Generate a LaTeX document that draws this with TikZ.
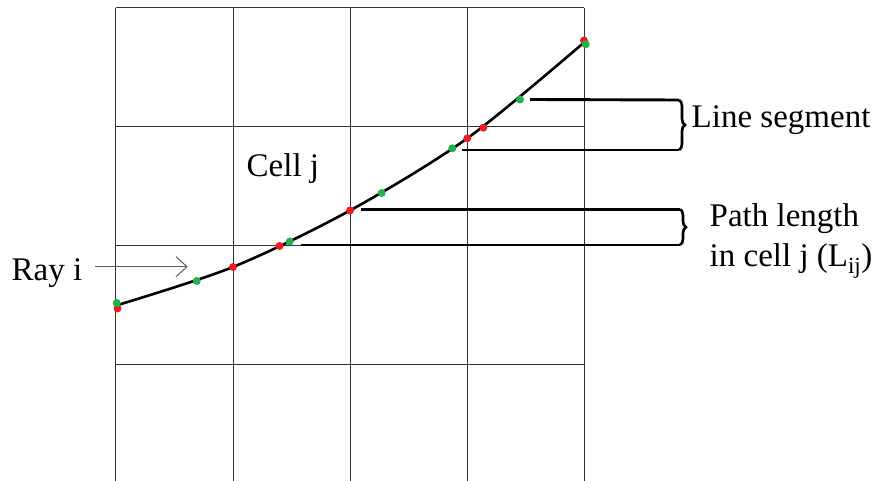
\documentclass[tikz,border=0pt]{standalone}
\usepackage{fontspec}
\setmainfont{Liberation Serif}
\usepackage{tikz}
\usetikzlibrary{arrows.meta,calc,positioning,decorations.pathreplacing}
\definecolor{dotred}{RGB}{237,28,36}
\definecolor{dotgreen}{RGB}{34,177,76}
\tikzset{
    gridline/.style={line width=1pt,draw=black!80},
    raycurve/.style={line width=2.6pt,draw=black,line cap=round},
    reddot/.style={fill=dotred},
    greendot/.style={fill=dotgreen},
    leader/.style={line width=2.9pt,draw=black},
    mybrace/.style={line width=2.6pt,draw=black,decorate,decoration={brace,amplitude=6pt}},
    rayarrow/.style={line width=1pt,draw=black!65,-{Straight Barb[length=11pt,width=20pt,line width=1pt]}},
    lbl/.style={font=\fontsize{33}{40}\selectfont,inner sep=0pt,anchor=base west},
    every node/.style={font=\fontsize{33}{40}\selectfont}
}

\begin{document}
\begin{tikzpicture}[x=1pt,y=-1pt]
  \useasboundingbox (0,0) rectangle (876,481);

  %---------------- grid ----------------
            \foreach \x in {115.5,233,350,467.5,584}{
                \draw[gridline] (\x,8) -- (\x,481);
            }
            \foreach \y in {8,127,245.5,364}{
                \draw[gridline] (115.5,\y) -- (584,\y);
            }

  %---------------- ray ----------------
            \coordinate (G0) at (116.7,303);
            \coordinate (G1) at (196.7,281);
            \coordinate (G2) at (289.7,241.5);
            \coordinate (G3) at (381.7,193);
            \coordinate (G4) at (452.3,148.3);
            \coordinate (G5) at (520,99.5);
            \coordinate (G6) at (585.7,44.3);

            \coordinate (R0) at (117.5,308.5);
            \coordinate (R1) at (233,267);
            \coordinate (R2) at (279.5,246);
            \coordinate (R3) at (350,210.5);
            \coordinate (R4) at (467.3,138.3);
            \coordinate (R5) at (483.3,127.7);
            \coordinate (R6) at (584,40.5);

            \draw[raycurve] plot[smooth] coordinates
                {(116,305.5) (R1) (R3) (R4) (584,42.5)};

            \foreach \P in {R0,R1,R2,R3,R4,R5,R6}{
                \fill[reddot] (\P) circle (4pt);
            }
            \foreach \P in {G0,G1,G2,G3,G4,G5,G6}{
                \fill[greendot] (\P) circle (4pt);
            }

  %---------------- labels ----------------
            \node[lbl] (raylbl) at (11.5,280) {Ray i};
            \node[lbl] (celllbl) at (246.5,176.5) {Cell j};
            \node[lbl] (seglbl) at (691.5,127.3) {Line segment};
            \node[lbl] (pathlbl) at (709.5,226.7) {Path length};
            \node[lbl] (celllenlbl) at (709.5,267) {in cell j (L\textsubscript{ij})};

            \coordinate (raystart) at (95,266.7);
            \coordinate (raytip) at (187.7,266.7);
            \draw[rayarrow] (raystart) -- (raytip);

  %---------------- brackets ----------------
  % line segment
            \coordinate (S1) at (679,100);
            \coordinate (S2) at (679,150);
            \draw[leader] ($(G5)+(10,0)$) -- (S1);
            \draw[leader] ($(G4)+(10,1.7)$) -- (S2);
            \draw[mybrace] (S1) -- (S2);

  % path length
            \coordinate (P1) at (680,209.3);
            \coordinate (P2) at (680,245);
            \draw[leader] ($(R3)+(11,-1.2)$) -- (P1);
            \draw[leader] ($(G2)+(11,3.5)$) -- (P2);
            \draw[mybrace] (P1) -- (P2);

\end{tikzpicture}
\end{document}
